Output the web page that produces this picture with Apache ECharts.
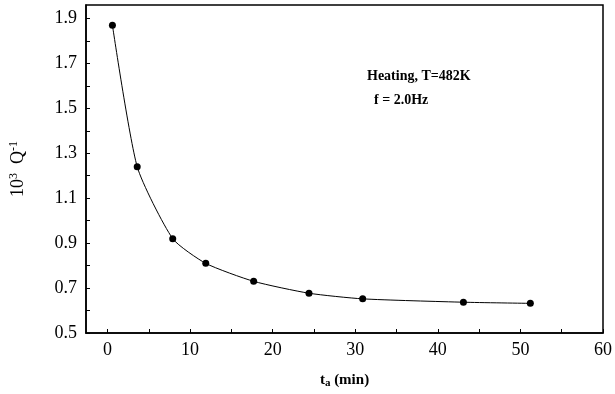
<!DOCTYPE html>
<html>
<head>
<meta charset="utf-8">
<script src="https://cdn.jsdelivr.net/npm/echarts@6/dist/echarts.min.js"></script>
<style>
  html, body { margin: 0; padding: 0; background: #fff; }
  #chart { width: 615px; height: 394px; }
</style>
</head>
<body>
<div id="chart"></div>
<script>
// Annealing time (min) and internal friction 10^3 Q^-1
const annealTime = [0.6, 3.6, 7.9, 11.9, 17.7, 24.4, 30.9, 43.1, 51.2];
const friction = [1.87, 1.24, 0.92, 0.81, 0.73, 0.677, 0.652, 0.637, 0.632];

const xLabelValues = [0, 10, 20, 30, 40, 50, 60];
const xTickValues = [0, 5, 10, 15, 20, 25, 30, 35, 40, 45, 50, 55, 60];
const yLabelValues = [0.5, 0.7, 0.9, 1.1, 1.3, 1.5, 1.7, 1.9];
const yTickValues = [0.5, 0.6, 0.7, 0.8, 0.9, 1.0, 1.1, 1.2, 1.3, 1.4, 1.5, 1.6, 1.7, 1.8, 1.9];

const noteLines = ['Heating, T=482K', 'f = 2.0Hz'];

const serif = '"Liberation Serif", "Times New Roman", serif';
const chart = echarts.init(document.getElementById('chart'), null, { renderer: 'canvas' });

const points = annealTime.map((t, i) => [t, friction[i]]);

chart.setOption({
  animation: false,
  backgroundColor: '#fff',
  grid: { left: 81, right: 11, top: 5, bottom: 56, show: true, borderColor: '#000', borderWidth: 1.5 },
  xAxis: {
    type: 'value',
    min: -2.6,
    max: 60,
    axisLine: { onZero: false, lineStyle: { color: '#000', width: 1.5 } },
    axisTick: { inside: true, length: 4, customValues: xTickValues, lineStyle: { color: '#000' } },
    axisLabel: { customValues: xLabelValues, color: '#000', fontFamily: serif, fontSize: 18, margin: 8 },
    splitLine: { show: false },
    name: '{t|t}{s|a}{t| (min)}',
    nameLocation: 'middle',
    nameGap: 38,
    nameTextStyle: {
      rich: {
        t: { fontFamily: serif, fontSize: 15, fontWeight: 'bold', color: '#000', lineHeight: 18 },
        s: { fontFamily: serif, fontSize: 11, fontWeight: 'bold', color: '#000', verticalAlign: 'bottom', lineHeight: 18 }
      }
    }
  },
  yAxis: {
    type: 'value',
    min: 0.5,
    max: 1.96,
    axisLine: { onZero: false, lineStyle: { color: '#000', width: 1.5 } },
    axisTick: { inside: true, length: 4, customValues: yTickValues, lineStyle: { color: '#000' } },
    axisLabel: {
      customValues: yLabelValues, color: '#000', fontFamily: serif, fontSize: 18, margin: 9,
      formatter: v => v.toFixed(1)
    },
    splitLine: { show: false },
    name: '{t|10}{s|3}{t|  Q}{s|-1}',
    nameLocation: 'middle',
    nameGap: 57,
    nameRotate: 90,
    nameTextStyle: {
      rich: {
        t: { fontFamily: serif, fontSize: 18, color: '#000', lineHeight: 21 },
        s: { fontFamily: serif, fontSize: 12, color: '#000', verticalAlign: 'top', lineHeight: 21 }
      }
    }
  },
  graphic: [
    {
      type: 'text', left: 367, top: 69,
      style: { text: noteLines[0], font: 'bold 14px ' + serif, fill: '#000' }
    },
    {
      type: 'text', left: 374, top: 93,
      style: { text: noteLines[1], font: 'bold 14px ' + serif, fill: '#000' }
    }
  ],
  series: [{
    type: 'line',
    data: points,
    smooth: 0.2,
    symbol: 'circle',
    symbolSize: 7,
    itemStyle: { color: '#000' },
    lineStyle: { color: '#000', width: 1 }
  }]
});
</script>
</body>
</html>
